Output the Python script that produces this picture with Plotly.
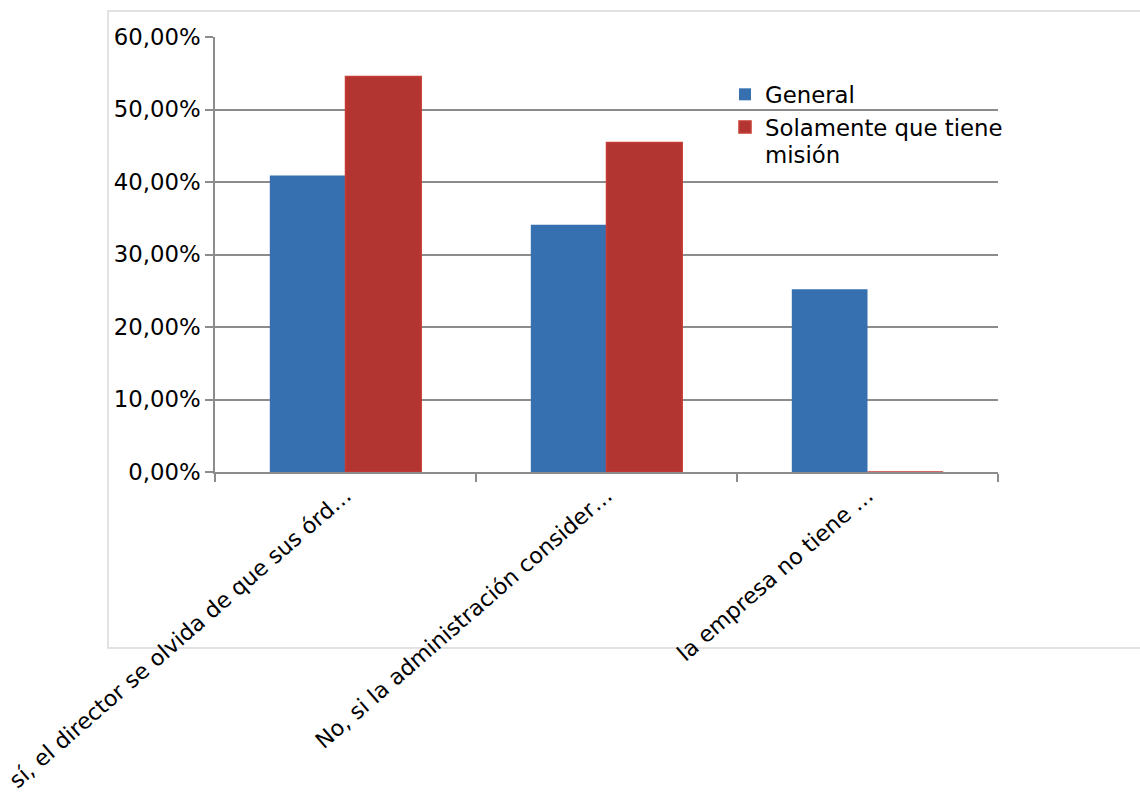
import plotly.graph_objects as go

categories = [
    "sí, el director se olvida de que sus órd…",
    "No, si la administración consider…",
    "la empresa no tiene …",
]
general = [0.4091, 0.3409, 0.2520]
solamente = [0.5455, 0.4545, 0.0]
series_names = ["General", "Solamente que tiene"]
series_name_tail = "misión"

FONT = "DejaVu Sans, Verdana, sans-serif"
FS = 22.8
FSX = 22.2
W, H = 1140, 794
L, R, T, B = 215, 142, 37, 322

fig = go.Figure()
fig.add_trace(go.Bar(
    x=categories, y=general, name=series_names[0],
    marker=dict(color="#3670B1", line=dict(color="#3670B1", width=0)),
))
fig.add_trace(go.Bar(
    x=categories, y=solamente, name=series_names[1],
    marker=dict(color="#B33532", line=dict(color="#C53B36", width=1.5)),
))

pw = W - L - R
ph = H - T - B
def px_x(x):
    return (x - L) / pw
def px_y(y):
    return (H - B - y) / ph

fig.add_shape(type="rect", xref="paper", yref="paper",
              x0=px_x(108), x1=px_x(1200), y0=px_y(648), y1=px_y(11),
              line=dict(color="#D9D9D9", width=1.5), fillcolor="rgba(0,0,0,0)",
              layer="below")

# second line of the wrapped legend entry
fig.add_annotation(xref="paper", yref="paper", x=px_x(764), y=px_y(155),
                   xanchor="left", yanchor="middle", showarrow=False,
                   text=series_name_tail, borderpad=0,
                   font=dict(family=FONT, size=FS, color="#000000"))

fig.update_layout(
    width=W, height=H, autosize=False,
    margin=dict(l=L, r=R, t=T, b=B, pad=0, autoexpand=False),
    paper_bgcolor="white", plot_bgcolor="white",
    separators=",.",
    barmode="group", bargap=0.42, bargroupgap=0,
    font=dict(family=FONT, size=FS, color="#000000"),
    showlegend=True,
    legend=dict(
        x=px_x(725), y=px_y(73), xanchor="left", yanchor="top",
        bgcolor="rgba(0,0,0,0)", font=dict(family=FONT, size=FS, color="#000000"),
        valign="middle", tracegroupgap=0, itemwidth=30,
    ),
    xaxis=dict(
        showgrid=False, showline=True, linecolor="#8C8C8C", linewidth=1.5,
        ticks="outside", ticklen=8, tickcolor="#8C8C8C", tickwidth=1.5,
        tickson="boundaries", tickangle=-41, layer="below traces",
        automargin=False,
        tickfont=dict(family=FONT, size=FSX, color="#000000"),
    ),
    yaxis=dict(
        range=[0, 0.6], dtick=0.1, tick0=0, tickformat=".2%",
        showgrid=True, gridcolor="#8C8C8C", gridwidth=1.5,
        showline=True, linecolor="#8C8C8C", linewidth=1.5,
        ticks="outside", ticklen=8, tickcolor="#8C8C8C", tickwidth=1.5,
        zeroline=False, layer="below traces", automargin=False,
        tickfont=dict(family=FONT, size=FS, color="#000000"),
    ),
)

fig.write_html("out.html")
